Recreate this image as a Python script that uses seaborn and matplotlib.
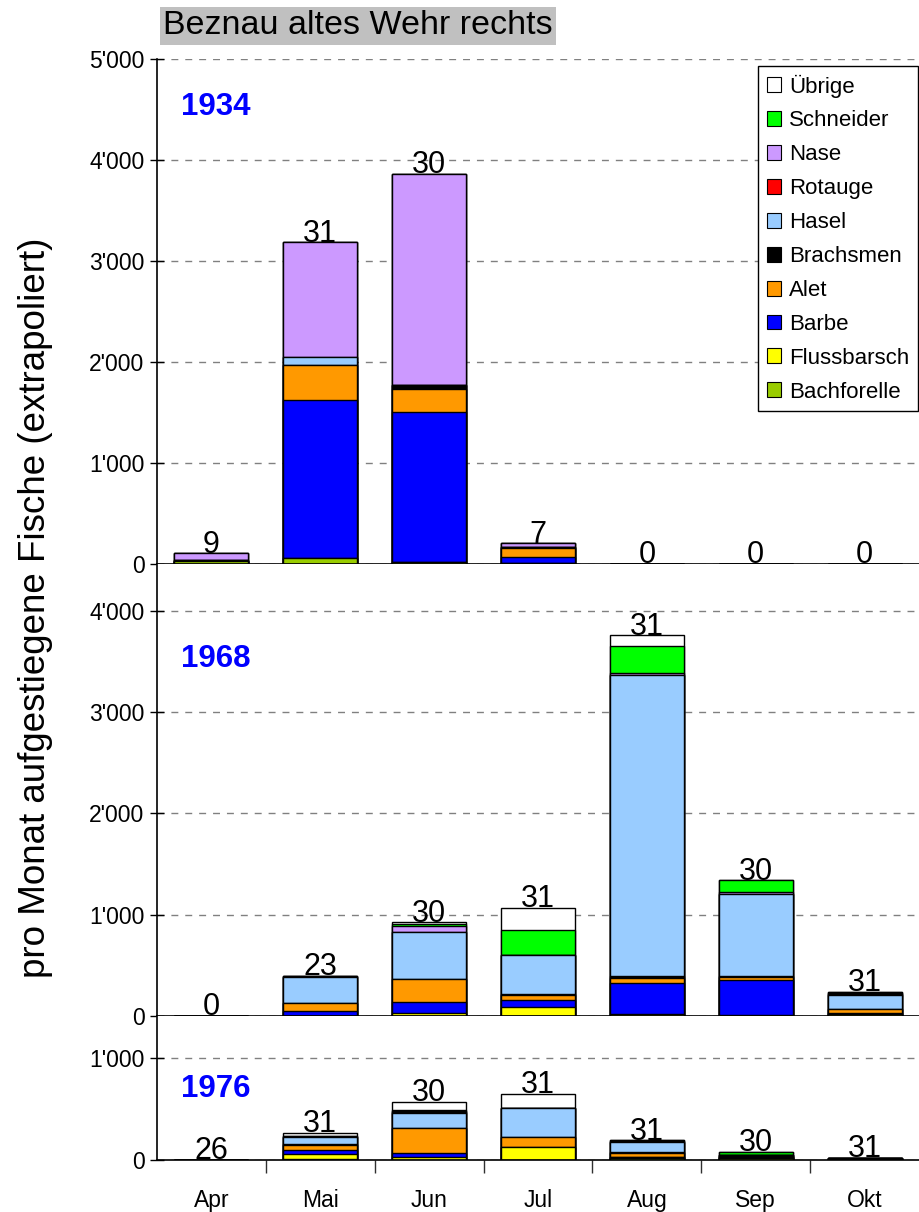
import numpy as np
import pandas as pd
import matplotlib
matplotlib.use('Agg')
import matplotlib.pyplot as plt
import seaborn as sns
from matplotlib.patches import Patch
from matplotlib.ticker import FuncFormatter, MultipleLocator

# ===== Daten (Fische pro Monat, extrapoliert) =====
months = ['Apr', 'Mai', 'Jun', 'Jul', 'Aug', 'Sep', 'Okt']
species = ['Bachforelle', 'Flussbarsch', 'Barbe', 'Alet', 'Brachsmen',
           'Hasel', 'Rotauge', 'Nase', 'Schneider', 'Übrige']
colors = ['#99CC00', '#FFFF00', '#0000FF', '#FF9900', '#000000',
          '#99CCFF', '#FF0000', '#CC99FF', '#00FF00', '#FFFFFF']

fish_1934 = {
    'Bachforelle': [30, 56, 17, 8, 0, 0, 0],
    'Flussbarsch': [0, 0, 0, 0, 0, 0, 0],
    'Barbe':       [0, 1568, 1485, 58, 0, 0, 0],
    'Alet':        [0, 343, 228, 92, 0, 0, 0],
    'Brachsmen':   [12, 0, 42, 8, 0, 0, 0],
    'Hasel':       [0, 86, 0, 0, 0, 0, 0],
    'Rotauge':     [0, 0, 0, 0, 0, 0, 0],
    'Nase':        [64, 1132, 2089, 39, 0, 0, 0],
    'Schneider':   [0, 0, 0, 0, 0, 0, 0],
    'Übrige':      [0, 0, 0, 0, 0, 0, 0],
}
fish_1968 = {
    'Bachforelle': [0, 0, 0, 0, 0, 0, 0],
    'Flussbarsch': [0, 0, 33, 86, 17, 5, 16],
    'Barbe':       [0, 50, 102, 72, 305, 350, 10],
    'Alet':        [0, 75, 233, 46, 55, 33, 40],
    'Brachsmen':   [0, 0, 0, 12, 15, 10, 5],
    'Hasel':       [0, 263, 465, 383, 2975, 807, 136],
    'Rotauge':     [0, 0, 0, 0, 0, 0, 11],
    'Nase':        [0, 7, 56, 0, 25, 15, 11],
    'Schneider':   [0, 0, 18, 247, 263, 120, 11],
    'Übrige':      [0, 0, 18, 224, 105, 0, 0],
}
fish_1976 = {
    'Bachforelle': [0, 13, 0, 0, 15, 18, 5],
    'Flussbarsch': [0, 42, 26, 124, 12, 8, 5],
    'Barbe':       [0, 39, 39, 0, 6, 5, 0],
    'Alet':        [0, 55, 245, 98, 40, 0, 5],
    'Brachsmen':   [0, 5, 0, 0, 9, 22, 8],
    'Hasel':       [0, 72, 154, 284, 91, 0, 0],
    'Rotauge':     [0, 4, 10, 0, 8, 0, 0],
    'Nase':        [0, 3, 8, 0, 6, 0, 0],
    'Schneider':   [0, 3, 8, 0, 6, 25, 0],
    'Übrige':      [0, 29, 82, 141, 0, 0, 0],
}
# Anzahl Zähltage pro Monat
days_1934 = [9, 31, 30, 7, 0, 0, 0]
days_1968 = [0, 23, 30, 31, 31, 30, 31]
days_1976 = [26, 31, 30, 31, 31, 30, 31]

# ===== Stil =====
sns.set_style('white')
plt.rcParams['font.family'] = ['Liberation Sans', 'DejaVu Sans']
plt.rcParams['text.color'] = 'black'
plt.rcParams['axes.labelcolor'] = 'black'
plt.rcParams['xtick.color'] = 'black'
plt.rcParams['ytick.color'] = 'black'

fig = plt.figure(figsize=(9.2, 12.12), dpi=100)
W_PX, H_PX = 920, 1212
left = 157 / W_PX
width = (919 - 157) / W_PX


def add_panel(top_px, bottom_px):
    return fig.add_axes([left, 1 - bottom_px / H_PX, width, (bottom_px - top_px) / H_PX])


ax1 = add_panel(59, 564)
ax2 = add_panel(564, 1016)
ax3 = add_panel(1016, 1160)

fmt = FuncFormatter(lambda v, p: f'{int(v):,}'.replace(',', "'"))


def draw_panel(ax, data, days, year, ymax, year_y):
    df = pd.DataFrame(data, index=months)[species]
    cum = df.cumsum(axis=1)
    # gestapelte Balken: oberste Summe zuerst, dann darüber die unteren
    for sp, c in reversed(list(zip(species, colors))):
        sns.barplot(x=months, y=cum[sp].values, order=months, color=c,
                    saturation=1, edgecolor='black', linewidth=1,
                    width=0.68, errorbar=None, ax=ax)
    totals = df.sum(axis=1).values
    for i, (t, d) in enumerate(zip(totals, days)):
        ax.annotate(str(d), (i, t), xytext=(0, 0.5), textcoords='offset points',
                    ha='center', va='baseline', fontsize=22)
    ax.set_xlim(-0.5, 6.5)
    ax.set_ylim(0, ymax)
    ax.yaxis.set_major_locator(MultipleLocator(1000))
    ax.yaxis.set_major_formatter(fmt)
    ax.set_axisbelow(True)
    ax.yaxis.grid(True, linestyle=(0, (5, 5)), color='#808080', lw=1)
    ax.set_xlabel('')
    ax.set_ylabel('')
    for s in ['top', 'right']:
        ax.spines[s].set_visible(False)
    ax.spines['left'].set_color('black')
    ax.spines['bottom'].set_color('black')
    ax.spines['left'].set_linewidth(1.2)
    ax.spines['bottom'].set_linewidth(1.2)
    ax.tick_params(axis='y', direction='inout', length=10, width=1,
                   labelsize=16.5, pad=4, left=True, colors='black')
    ax.set_xticks(range(len(months)))
    ax.set_xticks(np.arange(0.5, 6.0, 1), minor=True)
    ax.tick_params(axis='x', which='major', length=0)
    ax.tick_params(axis='x', which='minor', direction='out', length=6,
                   width=1, bottom=True, color='#303030')
    ax.text(0.031, year_y, year, transform=ax.transAxes, va='center',
            ha='left', color='#0000FF', fontsize=22.5, fontweight='bold')


draw_panel(ax1, fish_1934, days_1934, '1934', 5000, 0.905)
draw_panel(ax2, fish_1968, days_1968, '1968', 4464, 0.79)
draw_panel(ax3, fish_1976, days_1976, '1976', 1412, 0.49)

for ax in (ax1, ax2):
    ax.set_xticklabels([])
ax3.set_xticklabels(months, fontsize=16.5)
ax3.tick_params(axis='x', which='major', pad=21)
ax3.tick_params(axis='x', which='minor', length=9)

# Legende
handles = [Patch(facecolor=c, edgecolor='black', lw=0.8, label=s)
           for s, c in reversed(list(zip(species, colors)))]
leg = ax1.legend(handles=handles, loc='upper right', bbox_to_anchor=(0.999, 0.987),
                 fontsize=16, frameon=True, fancybox=False, framealpha=1,
                 edgecolor='black', handlelength=0.65, handleheight=0.65,
                 handletextpad=0.35, labelspacing=0.58, borderpad=0.4,
                 borderaxespad=0)
leg.get_frame().set_linewidth(1)

# Titel und Achsenbeschriftung
fig.text(163 / W_PX, 1 - 26 / H_PX, 'Beznau altes Wehr rechts', fontsize=24.5,
         va='center', ha='left',
         bbox=dict(facecolor='#C0C0C0', edgecolor='none', boxstyle='square,pad=0.1'))
fig.text(36 / W_PX, 1 - 608 / H_PX, 'pro Monat aufgestiegene Fische (extrapoliert)',
         rotation=90, va='center', ha='center', fontsize=26.5)

plt.savefig('out.png', dpi=100)
